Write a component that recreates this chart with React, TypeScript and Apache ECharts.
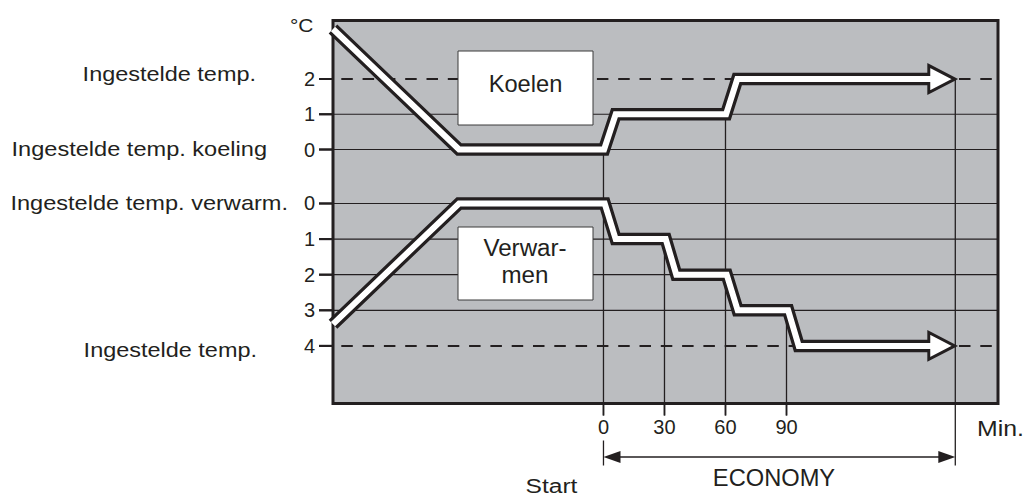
import React, { useEffect, useRef } from "react";
import * as echarts from "echarts";

// ---------- data ----------
const minuteTicks = [0, 30, 60, 90];
const coolTicks = [0, 1, 2];
const heatTicks = [0, 1, 2, 3, 4];
const coolSetLevel = 2;
const heatSetLevel = 4;
const economyStart = 0;
const economyEnd = 173;
const minuteMin = -133;
const minuteMax = 194;

// [minutes, °C offset]
const coolingCurve = [
  [-133, 3.42], [-71, 0], [0.3, 0], [6, 1], [60.3, 1], [65.8, 2], [163, 2],
];
const heatingCurve = [
  [-133, 3.39], [-71, 0], [0.6, 0], [6, 1], [30.6, 1], [35.8, 2], [60.6, 2],
  [66, 3], [90.8, 3], [96, 4], [163, 4],
];
const coolingArrowTip = [[economyEnd, coolSetLevel]];
const heatingArrowTip = [[economyEnd, heatSetLevel]];
// vertical guide lines: [minutes, level where the line starts]
const coolingMarkers = [[0, 0], [60, 1], [economyEnd, 2]];
const heatingMarkers = [[30, 1], [90, 3]];
const economySpan = [[economyStart, economyEnd]];

const leftLabels = [
  "Ingestelde temp.",
  "Ingestelde temp. koeling",
  "Ingestelde temp. verwarm.",
  "Ingestelde temp.",
];

// ---------- styles ----------
const INK = "#231f20";
const BG = "#bbbdc0";
const FONT = "'Liberation Sans', Arial, Helvetica, sans-serif";
const GRID_LEFT = 333;
const GRID_TOP = 20.5;
const GRID_RIGHT = 28;
const GRID_BOTTOM = 93.5;
const CHART_H = 497;
const TICK_LEN = 14;
const XTICK_LEN = 12;

function txt(
  text: string,
  x: number,
  y: number,
  size: number,
  align: string,
  scaleX: number
) {
  return {
    type: "text",
    x,
    y,
    scaleX,
    z: 10,
    silent: true,
    style: {
      text,
      fontSize: size,
      fontFamily: FONT,
      fill: INK,
      align,
      textAlign: align,
      verticalAlign: "middle",
      textVerticalAlign: "middle",
    },
  };
}

// horizontal guide line: short tick left of the border + line across the plot
function hLineRenderer(dashedLevel: number) {
  return (params: any, api: any) => {
    const v = api.value(1);
    const y = api.coord([0, v])[1];
    const cs = params.coordSys;
    const dashed = v === dashedLevel;
    return {
      type: "group",
      children: [
        {
          type: "line",
          shape: { x1: cs.x - TICK_LEN, y1: y, x2: cs.x, y2: y },
          style: { stroke: INK, lineWidth: 2 },
        },
        {
          type: "line",
          shape: { x1: cs.x, y1: y, x2: cs.x + cs.width, y2: y },
          style: {
            stroke: INK,
            lineWidth: dashed ? 2 : 1.2,
            lineDash: dashed ? [11.5, 9.8] : null,
            lineDashOffset: dashed ? 13.3 : 0,
          },
        },
      ],
    };
  };
}

// vertical guide line from the curve down to the bottom border
function vLineRenderer(params: any, api: any) {
  const p = api.coord([api.value(0), api.value(1)]);
  const cs = params.coordSys;
  const bottom = cs.y + cs.height;
  return {
    type: "line",
    shape: { x1: p[0], y1: p[1], x2: p[0], y2: bottom },
    style: { stroke: INK, lineWidth: 1.3 },
  };
}

// tick below the bottom border
function xTickRenderer(params: any, api: any) {
  const x = api.coord([api.value(0), 0])[0];
  const cs = params.coordSys;
  const bottom = cs.y + cs.height;
  return {
    type: "line",
    shape: { x1: x, y1: bottom, x2: x, y2: bottom + XTICK_LEN },
    style: { stroke: INK, lineWidth: 1.5 },
  };
}

function economyRenderer(params: any, api: any) {
  const x0 = api.coord([api.value(0), 0])[0];
  const x1 = api.coord([api.value(1), 0])[0];
  const cs = params.coordSys;
  const yb = cs.y + cs.height;
  const ya = yb + 53.5;
  const head = 17;
  const half = 6;
  return {
    type: "group",
    children: [
      { type: "line", shape: { x1: x0, y1: yb + 37, x2: x0, y2: yb + 62 }, style: { stroke: INK, lineWidth: 1.3 } },
      { type: "line", shape: { x1: x1, y1: yb, x2: x1, y2: yb + 62 }, style: { stroke: INK, lineWidth: 1.3 } },
      { type: "line", shape: { x1: x0 + 5, y1: ya, x2: x1 - 5, y2: ya }, style: { stroke: INK, lineWidth: 1.3 } },
      { type: "polygon", shape: { points: [[x0, ya], [x0 + head, ya - half], [x0 + head, ya + half]] }, style: { fill: INK } },
      { type: "polygon", shape: { points: [[x1, ya], [x1 - head, ya - half], [x1 - head, ya + half]] }, style: { fill: INK } },
    ],
  };
}

const outline = (data: number[][], yAxisIndex: number) => ({
  type: "line",
  data,
  yAxisIndex,
  z: 3,
  symbol: "none",
  showSymbol: false,
  silent: true,
  lineStyle: { color: INK, width: 12.5, join: "miter", cap: "butt" },
});
const inner = (data: number[][], yAxisIndex: number) => ({
  type: "line",
  data,
  yAxisIndex,
  z: 5,
  symbol: "none",
  showSymbol: false,
  silent: true,
  lineStyle: { color: "#ffffff", width: 6, join: "miter", cap: "butt" },
});
const arrowHead = (data: number[][], yAxisIndex: number) => ({
  type: "scatter",
  data,
  yAxisIndex,
  z: 4,
  silent: true,
  symbol: "triangle",
  symbolSize: [27, 26],
  symbolRotate: -90,
  symbolOffset: [-13.5, 0],
  itemStyle: { color: "#ffffff", borderColor: INK, borderWidth: 3, opacity: 1 },
});

const yAxisCommon = {
  type: "value",
  position: "left",
  offset: 0,
  axisLine: { show: false, onZero: false },
  axisTick: { show: false },
  splitLine: { show: false },
};

const yLabel = { show: true, margin: 18, fontSize: 20, fontFamily: FONT, color: INK };

const staticGraphics: any[] = [
  { id: "boxK", type: "rect", z: 10, silent: true, shape: { x: 458, y: 51, width: 135, height: 74 }, style: { fill: "#ffffff", stroke: "#3a3a3a", lineWidth: 1 } },
  { id: "boxV", type: "rect", z: 10, silent: true, shape: { x: 458, y: 227, width: 135, height: 73 }, style: { fill: "#ffffff", stroke: "#3a3a3a", lineWidth: 1 } },
  txt("Koelen", 525.5, 84, 23, "center", 1.03),
  txt("Verwar-", 525, 248.5, 23, "center", 1.05),
  txt("men", 525, 275, 23, "center", 1.05),
  txt(leftLabels[0], 256, 74.5, 20.5, "right", 1.145),
  txt(leftLabels[1], 267, 149, 20.5, "right", 1.15),
  txt(leftLabels[2], 288, 203, 20.5, "right", 1.15),
  txt(leftLabels[3], 257, 350, 20.5, "right", 1.145),
  txt("°C", 290, 25, 19, "left", 1.1),
  txt("Min.", 977, 429, 22, "left", 1.13),
  txt("ECONOMY", 774, 478.5, 23, "center", 1.03),
  txt("Start", 551.5, 486, 21, "center", 1.17),
];

const option: any = {
  animation: false,
  backgroundColor: "#ffffff",
  grid: {
    left: GRID_LEFT,
    top: GRID_TOP,
    right: GRID_RIGHT,
    bottom: GRID_BOTTOM,
    show: true,
    backgroundColor: BG,
    borderColor: INK,
    borderWidth: 3,
    outerBoundsMode: "none",
  },
  xAxis: {
    type: "value",
    min: minuteMin,
    max: minuteMax,
    position: "bottom",
    axisLine: { show: false, onZero: false },
    axisTick: { show: false },
    splitLine: { show: false },
    axisLabel: { show: true, customValues: minuteTicks, margin: 13, fontSize: 20, fontFamily: FONT, color: INK },
  },
  yAxis: [
    {
      ...yAxisCommon,
      min: -7.206,
      max: 3.66,
      axisLabel: { ...yLabel, customValues: coolTicks },
    },
    {
      ...yAxisCommon,
      min: -5.14,
      max: 5.618,
      inverse: true,
      axisLabel: { ...yLabel, customValues: heatTicks },
    },
  ],
  series: [
    { type: "custom", yAxisIndex: 0, z: 1, silent: true, data: coolTicks.map((v) => [minuteMin, v]), renderItem: hLineRenderer(coolSetLevel) },
    { type: "custom", yAxisIndex: 1, z: 1, silent: true, data: heatTicks.map((v) => [minuteMin, v]), renderItem: hLineRenderer(heatSetLevel) },
    { type: "custom", yAxisIndex: 0, z: 1, silent: true, data: coolingMarkers, renderItem: vLineRenderer },
    { type: "custom", yAxisIndex: 1, z: 1, silent: true, data: heatingMarkers, renderItem: vLineRenderer },
    { type: "custom", yAxisIndex: 0, z: 1, silent: true, data: minuteTicks.map((m) => [m, 0]), renderItem: xTickRenderer },
    { type: "custom", yAxisIndex: 0, z: 1, silent: true, data: economySpan, renderItem: economyRenderer },
    outline(coolingCurve, 0),
    outline(heatingCurve, 1),
    arrowHead(coolingArrowTip, 0),
    arrowHead(heatingArrowTip, 1),
    inner(coolingCurve, 0),
    inner(heatingCurve, 1),
  ],
  graphic: staticGraphics,
};

export default function App() {
  const ref = useRef<HTMLDivElement>(null);
  useEffect(() => {
    if (!ref.current) return;
    const chart = echarts.init(ref.current, null, { renderer: "svg" });
    chart.setOption(option);

    // axis ticks positioned through the chart's own scales
    try {
      const bottomY = CHART_H - GRID_BOTTOM;
      const tickEls: any[] = [];
      coolTicks.forEach((v, i) => {
        const y = chart.convertToPixel({ yAxisIndex: 0 } as any, v) as number;
        if (isFinite(y)) tickEls.push({ id: "ct" + i, type: "line", z: 12, silent: true, shape: { x1: GRID_LEFT - TICK_LEN, y1: y, x2: GRID_LEFT, y2: y }, style: { stroke: INK, lineWidth: 2 } });
      });
      heatTicks.forEach((v, i) => {
        const y = chart.convertToPixel({ yAxisIndex: 1 } as any, v) as number;
        if (isFinite(y)) tickEls.push({ id: "ht" + i, type: "line", z: 12, silent: true, shape: { x1: GRID_LEFT - TICK_LEN, y1: y, x2: GRID_LEFT, y2: y }, style: { stroke: INK, lineWidth: 2 } });
      });
      minuteTicks.forEach((m, i) => {
        const x = chart.convertToPixel({ xAxisIndex: 0 } as any, m) as number;
        if (isFinite(x)) tickEls.push({ id: "xt" + i, type: "line", z: 12, silent: true, shape: { x1: x, y1: bottomY, x2: x, y2: bottomY + XTICK_LEN }, style: { stroke: INK, lineWidth: 1.5 } });
      });
      chart.setOption({ graphic: [...staticGraphics, ...tickEls] });
    } catch (e) {
      // keep the chart as drawn
    }

    return () => chart.dispose();
  }, []);
  return (
    <div
      ref={ref}
      style={{ position: "fixed", left: 0, top: 0, width: 1026, height: 497, background: "#ffffff" }}
    />
  );
}
